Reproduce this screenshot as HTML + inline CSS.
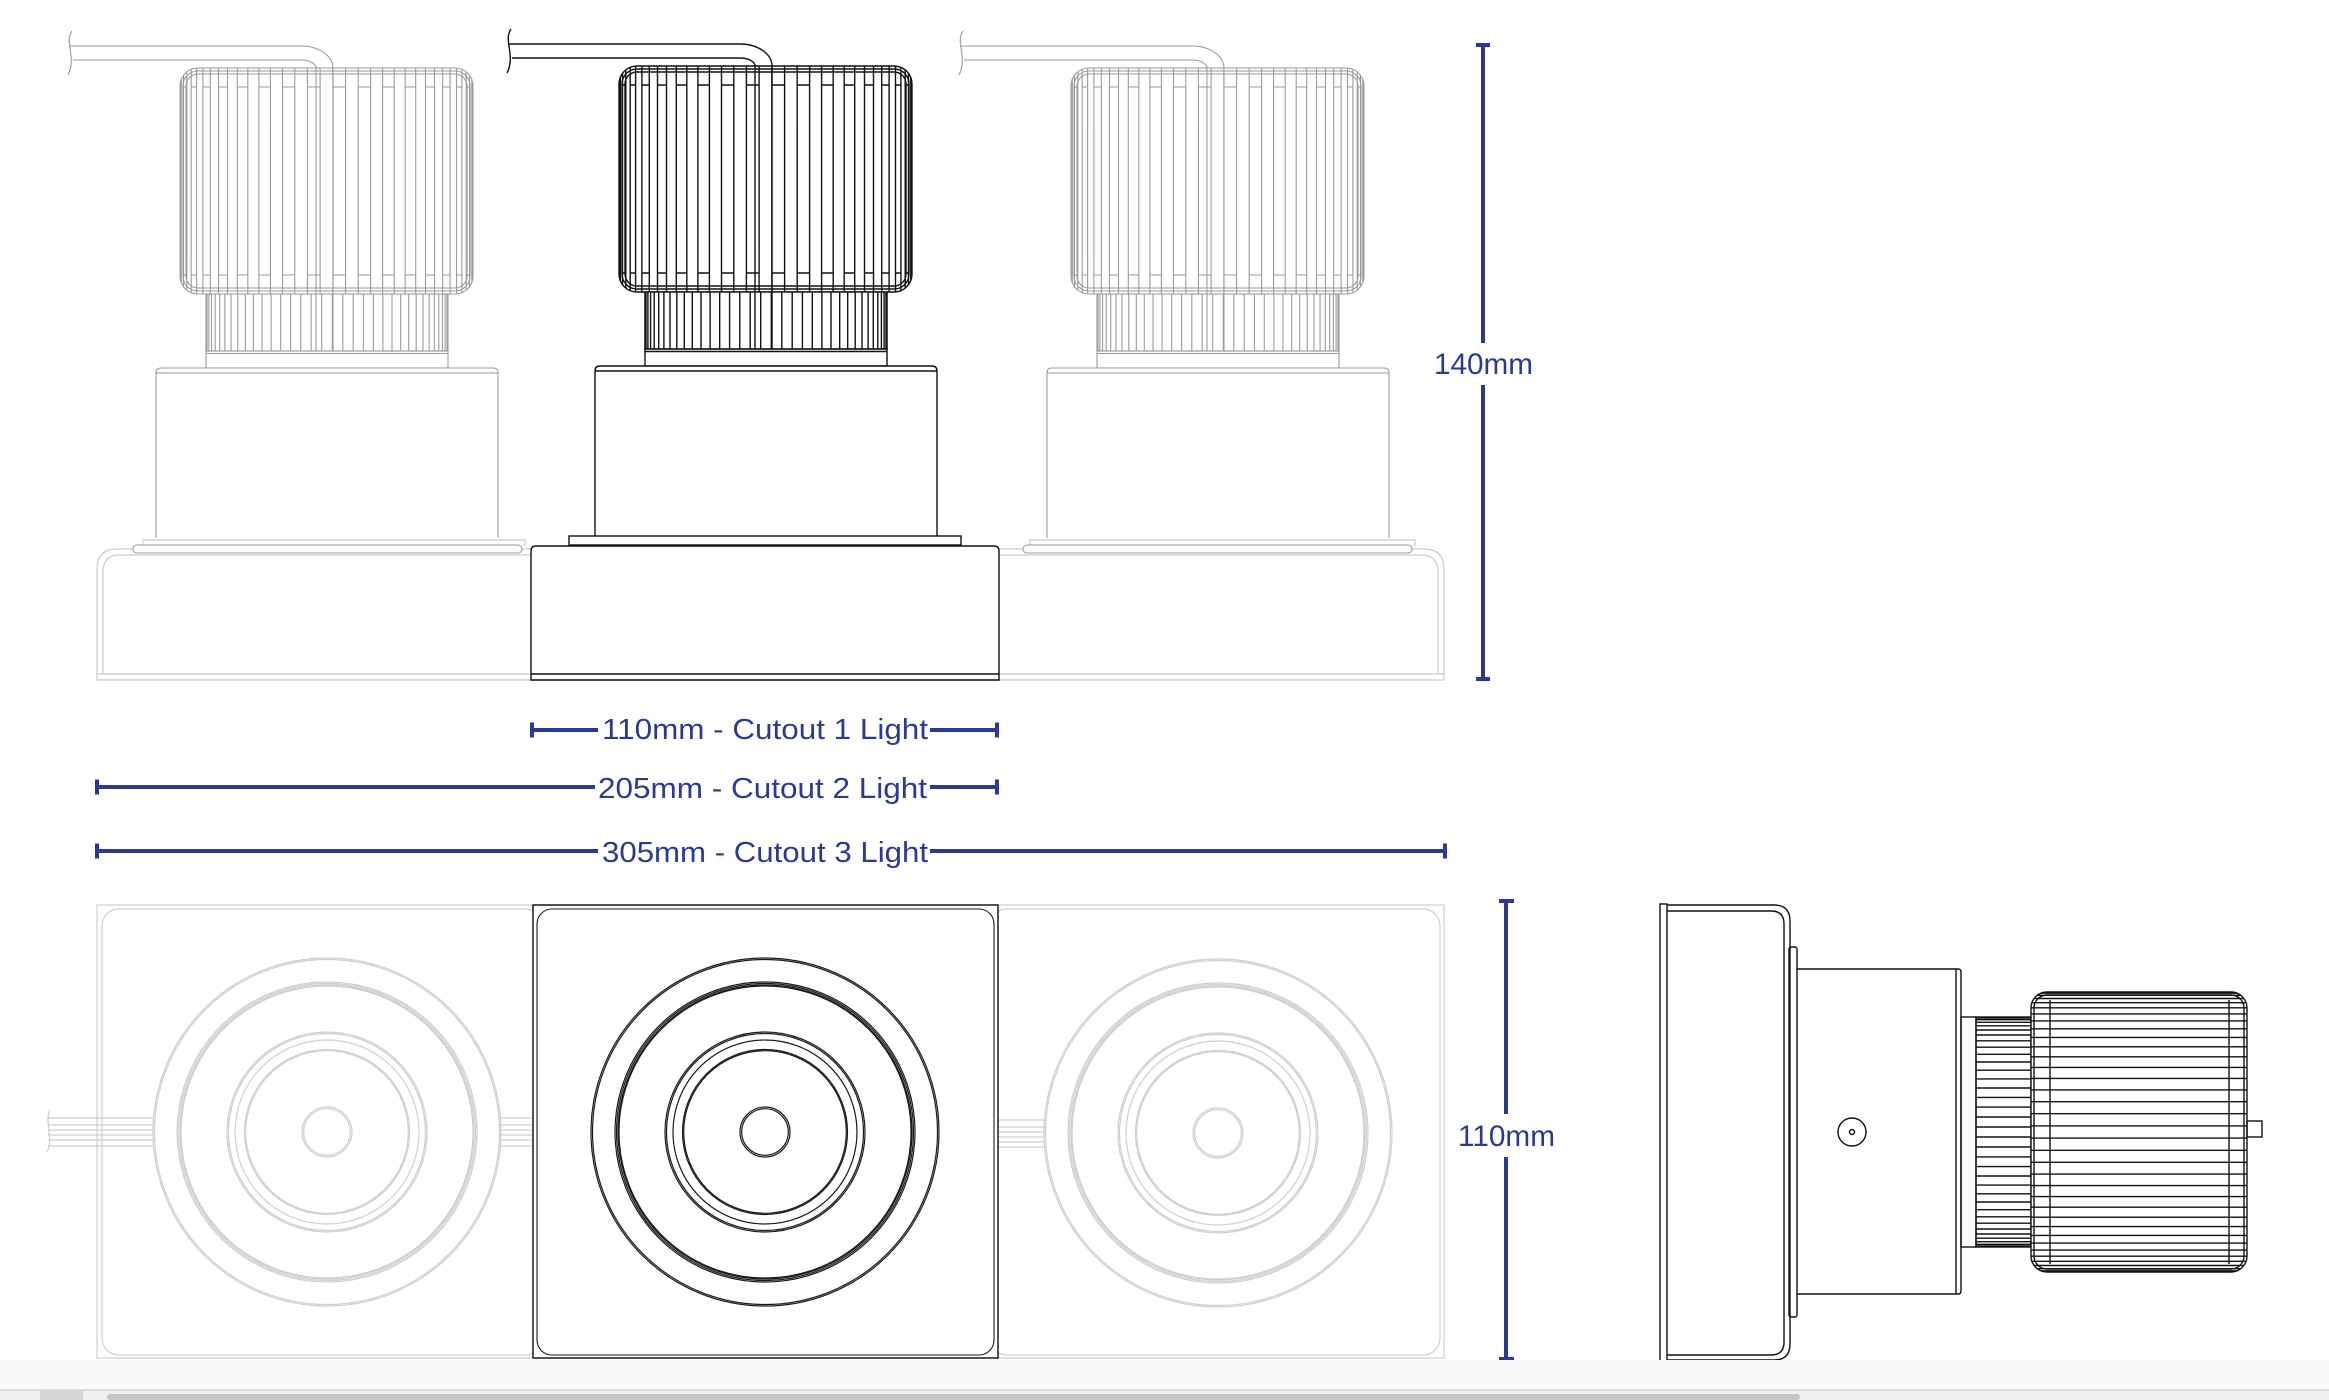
<!DOCTYPE html>
<html><head><meta charset="utf-8"><style>
html,body{margin:0;padding:0;background:#fff;}
svg{display:block;}
text{font-family:"Liberation Sans",sans-serif;fill:#2b3990;}
</style></head><body>
<svg width="2329" height="1400" viewBox="0 0 2329 1400" xmlns="http://www.w3.org/2000/svg">
<defs>
<clipPath id="hsClip"><rect x="619" y="66" width="293" height="226" rx="18"/></clipPath>
<clipPath id="sideClip"><rect x="2031" y="992" width="216" height="280" rx="16"/></clipPath>
<g id="upper" fill="none">
  <path d="M508 44H740A32 22 0 0 1 772 66M512 58H740A15 8 0 0 1 755 66"/>
  <path d="M511 29C503 40 516 56 507 73"/>
  <rect x="619" y="66" width="293" height="226" rx="18" fill="#fff"/>
  <rect x="622" y="69" width="287" height="220" rx="15"/>
  <rect x="625" y="72" width="281" height="214" rx="12"/>
  <path clip-path="url(#hsClip)" d="M619.1 66V292M620.3 66V292M622.5 66V292M625.8 66V292M630.2 66V292M635.6 66V292M641.9 66V292M649.3 66V292M657.5 66V292M666.5 66V292M676.3 66V292M686.8 66V292M697.9 66V292M709.4 66V292M721.5 66V292M733.8 66V292M746.4 66V292M759.1 66V292M771.9 66V292M784.6 66V292M797.2 66V292M809.6 66V292M821.6 66V292M833.2 66V292M844.2 66V292M854.7 66V292M864.5 66V292M873.5 66V292M881.7 66V292M889.1 66V292M895.5 66V292M900.9 66V292M905.2 66V292M908.5 66V292M910.8 66V292M911.9 66V292"/>
  <path d="M622.5 85H625.8M630.2 85H635.6M641.9 85H649.3M657.5 85H666.5M676.3 85H686.8M697.9 85H709.4M721.5 85H733.8M746.4 85H759.1M771.9 85H784.6M797.2 85H809.6M821.6 85H833.2M844.2 85H854.7M864.5 85H873.5M881.7 85H889.1M895.5 85H900.9M905.2 85H908.5M622.5 273H625.8M630.2 273H635.6M641.9 273H649.3M657.5 273H666.5M676.3 273H686.8M697.9 273H709.4M721.5 273H733.8M746.4 273H759.1M771.9 273H784.6M797.2 273H809.6M821.6 273H833.2M844.2 273H854.7M864.5 273H873.5M881.7 273H889.1M895.5 273H900.9M905.2 273H908.5"/>
  <rect x="645" y="292" width="242" height="57" fill="#fff"/>
  <path d="M645.1 292V349M646 292V349M647.9 292V349M650.6 292V349M654.2 292V349M658.7 292V349M663.9 292V349M670 292V349M676.8 292V349M684.3 292V349M692.3 292V349M701 292V349M710.1 292V349M719.7 292V349M729.6 292V349M739.8 292V349M750.2 292V349M760.7 292V349M771.3 292V349M781.8 292V349M792.2 292V349M802.4 292V349M812.3 292V349M821.9 292V349M831 292V349M839.7 292V349M847.7 292V349M855.2 292V349M862 292V349M868.1 292V349M873.3 292V349M877.8 292V349M881.4 292V349M884.1 292V349M886 292V349M886.9 292V349"/>
  <path d="M755 66V349M772 66V349"/>
  <rect x="645" y="349" width="242" height="17"/>
  <line x1="645" y1="351.5" x2="887" y2="351.5"/>
  <path d="M595 536V371Q595 366 600 366H932Q937 366 937 371V536" fill="#fff"/>
  <line x1="595" y1="371" x2="937" y2="371"/>
</g>
<g id="circ" fill="none">
  <circle r="174"/><circle r="172.5"/>
  <circle r="150"/><circle r="148.5"/><circle r="147"/><circle r="146"/>
  <circle r="100"/><circle r="98.5"/>
  <circle r="92"/>
  <circle r="82.5"/><circle r="81.3"/>
  <circle r="25"/><circle r="23.3"/>
</g>
</defs>

<rect x="0" y="0" width="2329" height="1400" fill="#fff"/>

<!-- ===== TOP ELEVATION ===== -->
<!-- grey shared base -->
<g fill="none" stroke="#cbcbcb" stroke-width="1.2">
  <path d="M97 680V569Q97 549 117 549H1424Q1444 549 1444 569V680Z"/>
  <path d="M103 674V572Q103 555 120 555H1421Q1438 555 1438 572V674"/>
  <line x1="97" y1="674" x2="1444" y2="674"/>
  <path d="M143 547V540H525V546"/>
  <path d="M1030 547V540H1415V546"/>
</g>
<!-- grey lights -->
<use href="#upper" transform="translate(-439 2)" stroke="#9a9a9a" stroke-width="1.1"/>
<use href="#upper" transform="translate(452 2)" stroke="#9a9a9a" stroke-width="1.1"/>
<g fill="#fff" stroke="#9a9a9a" stroke-width="1.1">
  <rect x="133" y="545" width="389" height="8" rx="4"/>
  <rect x="1023" y="545" width="389" height="8" rx="4"/>
</g>
<!-- middle light -->
<use href="#upper" stroke="#111" stroke-width="1.4"/>
<g fill="#fff" stroke="#111" stroke-width="1.4">
  <rect x="569" y="536" width="392" height="9"/>
  <path d="M531 680V551Q531 546 536 546H994Q999 546 999 551V680Z"/>
  <line x1="531" y1="674" x2="999" y2="674"/>
</g>

<!-- 140mm dimension -->
<g stroke="#2b3990" stroke-width="4" fill="none">
  <path d="M1483 45V343M1483 385V679"/>
  <path d="M1476 45H1490M1476 679H1490"/>
</g>
<text x="1434" y="374" font-size="30" textLength="99" lengthAdjust="spacingAndGlyphs">140mm</text>

<!-- horizontal dimensions -->
<g stroke="#2b3990" stroke-width="4" fill="none">
  <path d="M532 730H598M930 730H997"/>
  <path d="M532 722.5V737.5M997 722.5V737.5"/>
  <path d="M97 787H595M930 787H997"/>
  <path d="M97 779.5V794.5M997 779.5V794.5"/>
  <path d="M97 851H598M930 851H1445"/>
  <path d="M97 843.5V858.5M1445 843.5V858.5"/>
</g>
<text x="602" y="739" font-size="29" textLength="326" lengthAdjust="spacingAndGlyphs">110mm - Cutout 1 Light</text>
<text x="598" y="798" font-size="29" textLength="329" lengthAdjust="spacingAndGlyphs">205mm - Cutout 2 Light</text>
<text x="602" y="862" font-size="29" textLength="326" lengthAdjust="spacingAndGlyphs">305mm - Cutout 3 Light</text>

<!-- ===== BOTTOM (FACE) VIEW ===== -->
<g fill="none" stroke="#cfcfcf" stroke-width="1.2">
  <rect x="97" y="905" width="1347" height="453"/>
  <rect x="102" y="909" width="440" height="446" rx="17"/>
  <rect x="990" y="909" width="450" height="446" rx="17"/>
  <path d="M48 1118H153M48 1125H153M48 1130H153M48 1135H153M48 1140H153M48 1146H153"/>
  <path d="M499 1118H533M499 1125H533M499 1130H533M499 1135H533M499 1140H533M499 1146H533"/>
  <path d="M998 1120H1044M998 1127H1044M998 1132H1044M998 1137H1044M998 1142H1044M998 1147H1044"/>
  <path d="M50 1110C44 1122 54 1138 47 1152"/>
</g>
<use href="#circ" transform="translate(327 1132)" stroke="#cfcfcf" stroke-width="1.2"/>
<use href="#circ" transform="translate(1218 1133)" stroke="#cfcfcf" stroke-width="1.2"/>
<g fill="#fff" stroke="#1a1a1a" stroke-width="1.5">
  <rect x="533" y="905" width="465" height="453"/>
  <rect x="537" y="909" width="457" height="446" rx="15" stroke-width="1.1"/>
</g>
<use href="#circ" transform="translate(765 1132)" stroke="#1a1a1a" stroke-width="1.2"/>

<!-- 110mm dimension -->
<g stroke="#2b3990" stroke-width="4" fill="none">
  <path d="M1506 901V1114M1506 1157V1359"/>
  <path d="M1499 901H1514M1499 1359H1514"/>
</g>
<text x="1458" y="1146" font-size="30" textLength="97" lengthAdjust="spacingAndGlyphs">110mm</text>

<!-- ===== SIDE VIEW ===== -->
<g fill="none" stroke="#111" stroke-width="1.4">
  <rect x="1660" y="904" width="7" height="458" fill="#fff"/>
  <path d="M1667 905H1774Q1790 905 1790 921V1344Q1790 1360 1774 1360H1667"/>
  <path d="M1667 911H1771Q1784 911 1784 924V1342Q1784 1355 1771 1355H1667"/>
  <rect x="1789" y="947" width="8" height="370" rx="2"/>
  <path d="M1797 969H1958Q1961 969 1961 972V1291Q1961 1294 1958 1294H1797"/>
  <line x1="1956" y1="969" x2="1956" y2="1294"/>
  <rect x="1961" y="1017" width="15" height="230"/>
  <rect x="1976" y="1017" width="55" height="230"/>
  <path d="M1976 1018H2031M1976 1019.7H2031M1976 1022.3H2031M1976 1025.8H2031M1976 1030H2031M1976 1035H2031M1976 1040.8H2031M1976 1047.2H2031M1976 1054.3H2031M1976 1062H2031M1976 1070.2H2031M1976 1078.9H2031M1976 1088H2031M1976 1097.4H2031M1976 1107.1H2031M1976 1117H2031M1976 1127H2031M1976 1137H2031M1976 1147H2031M1976 1156.9H2031M1976 1166.6H2031M1976 1176H2031M1976 1185.1H2031M1976 1193.8H2031M1976 1202H2031M1976 1209.7H2031M1976 1216.8H2031M1976 1223.2H2031M1976 1229H2031M1976 1234H2031M1976 1238.2H2031M1976 1241.7H2031M1976 1244.3H2031M1976 1246H2031"/>
  <rect x="2031" y="992" width="216" height="280" rx="16" fill="#fff"/>
  <rect x="2034" y="995" width="210" height="274" rx="13"/>
  <path clip-path="url(#sideClip)" d="M2031 993.2H2247M2031 995.3H2247M2031 998.5H2247M2031 1002.7H2247M2031 1007.8H2247M2031 1013.9H2247M2031 1020.9H2247M2031 1028.8H2247M2031 1037.4H2247M2031 1046.8H2247M2031 1056.8H2247M2031 1067.4H2247M2031 1078.4H2247M2031 1089.9H2247M2031 1101.7H2247M2031 1113.7H2247M2031 1125.9H2247M2031 1138.1H2247M2031 1150.3H2247M2031 1162.3H2247M2031 1174.1H2247M2031 1185.6H2247M2031 1196.6H2247M2031 1207.2H2247M2031 1217.2H2247M2031 1226.6H2247M2031 1235.4H2247M2031 1243.1H2247M2031 1250.1H2247M2031 1256.2H2247M2031 1261.3H2247M2031 1265.5H2247M2031 1268.7H2247M2031 1270.8H2247"/>
  <path d="M2050 1000V1264M2229 1000V1264"/>
  <rect x="2247" y="1121" width="15" height="16"/>
  <circle cx="1852" cy="1132" r="14"/>
  <circle cx="1852" cy="1132" r="2.5"/>
</g>

<!-- bottom strip -->
<rect x="0" y="1360" width="2329" height="29" fill="#fafafa"/>
<rect x="0" y="1389" width="2329" height="2" fill="#dcdcdc"/>
<rect x="0" y="1391" width="2329" height="9" fill="#f0f0f0"/>
<rect x="40" y="1391" width="43" height="9" fill="#d6d6d6"/>
<rect x="107" y="1394" width="1693" height="6" rx="3" fill="#c6c6c6"/>
</svg>
</body></html>
